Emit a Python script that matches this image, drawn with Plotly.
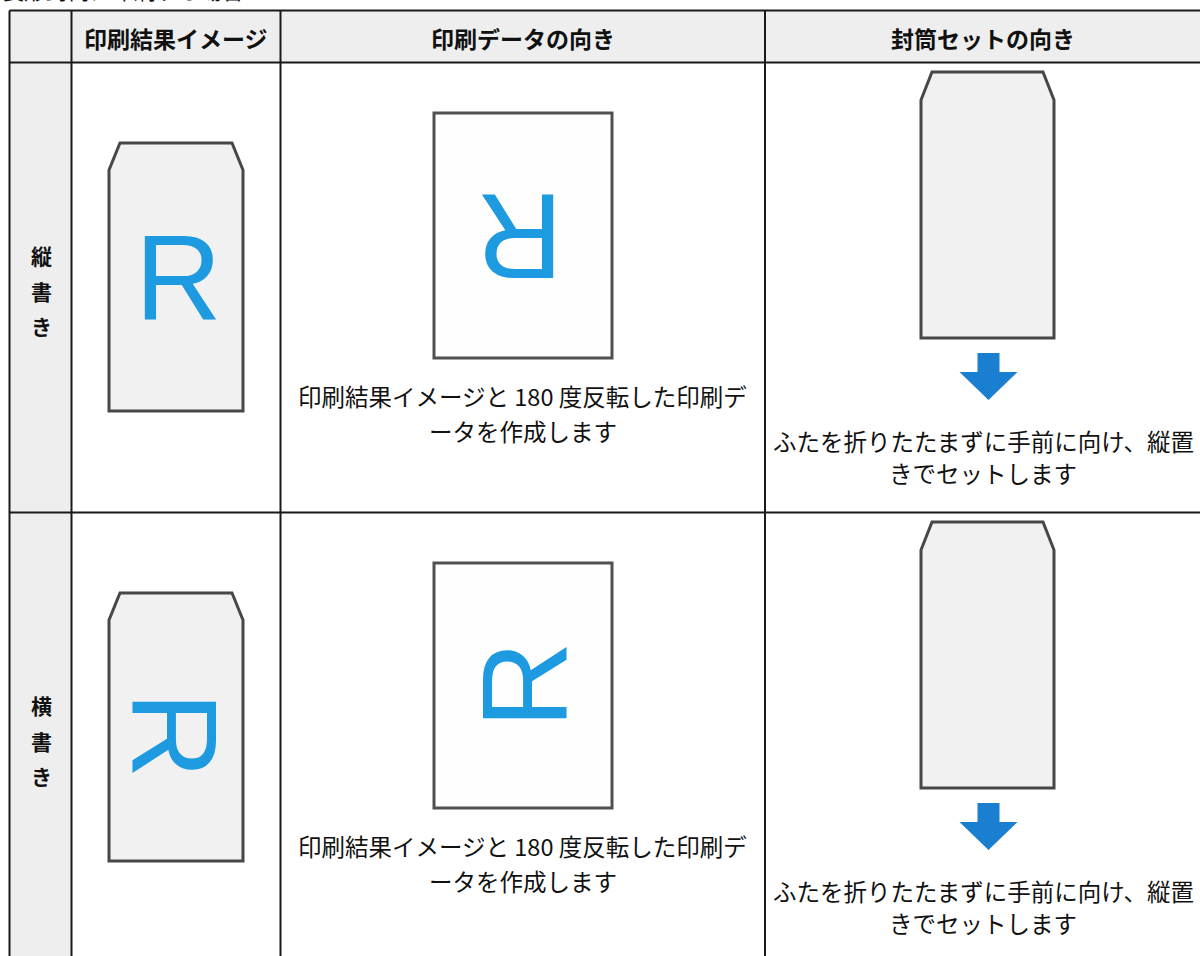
import plotly.graph_objects as go

# ---- table structure (pixel-scaled axes: 1 unit = 1 px) ----
W, H = 1200, 956
col_edges = [9.5, 71.5, 280.5, 765.0, 1201.0]
row_edges = [10.5, 62.5, 512.5, 962.5]
headers = ["", "印刷結果イメージ", "印刷データの向き", "封筒セットの向き"]
row_labels = [["縦", "書", "き"], ["横", "書", "き"]]
row_label_dy = [192.5, 228.0, 263.5]
title_text = "長形封筒に印刷する場合"

# rotation of the letter R in each row
result_angles = [0, 90]        # 印刷結果イメージ
data_angles = [180, -90]       # 印刷データの向き
result_R_dy = [215.5, 222.5]
result_R_x = [178, 174]
data_R_dy = [173.5, 172.5]
data_R_x = [520, 525]

data_caption = ["印刷結果イメージと 180 度反転した印刷デ", "ータを作成します"]
data_caption_dy = [333.0, 368.5]
set_caption = ["ふたを折りたたまずに手前に向け、縦置", "きでセットします"]
set_caption_dy = [378.5, 410.5]

# shapes geometry (relative to each row top)
env1 = dict(x0=109, x1=243, y0=80.5, y1=348.5, cx=11, cy=27)
paper = dict(x0=434, x1=612, y0=50.5, y1=295.5)
env3 = dict(x0=921, x1=1054, y0=9.5, y1=275.5, cx=11, cy=28)
arrow = dict(cx=988.5, half_shaft=11, half_head=29, top=290.5, neck=309.5, tip=337.5)

C_GRID = "#1a1a1a"
C_HEAD = "#eeeeee"
C_ENV_FILL = "#f1f1f2"
C_ENV_LINE = "#474747"
C_R = "#1d9ae0"
C_ARROW = "#1a7fd0"
FONT_JP = "Noto Sans CJK JP"

fig = go.Figure()
shapes = []
ann = []

# backgrounds
shapes.append(dict(type="rect", x0=col_edges[0], x1=col_edges[-1], y0=row_edges[0], y1=row_edges[1],
                   fillcolor=C_HEAD, line=dict(width=0), layer="below"))
shapes.append(dict(type="rect", x0=col_edges[0], x1=col_edges[1], y0=row_edges[1], y1=row_edges[-1],
                   fillcolor=C_HEAD, line=dict(width=0), layer="below"))


def env_path(e, top):
    x0, x1, cx, cy = e["x0"], e["x1"], e["cx"], e["cy"]
    y0, y1 = top + e["y0"], top + e["y1"]
    return (f"M{x0},{y0+cy} L{x0+cx},{y0} L{x1-cx},{y0} L{x1},{y0+cy} "
            f"L{x1},{y1} L{x0},{y1} Z")


for r in range(2):
    top = row_edges[r + 1]
    # result envelope
    shapes.append(dict(type="path", path=env_path(env1, top), fillcolor=C_ENV_FILL,
                       line=dict(color=C_ENV_LINE, width=3)))
    # print data paper
    shapes.append(dict(type="rect", x0=paper["x0"], x1=paper["x1"], y0=top + paper["y0"],
                       y1=top + paper["y1"], fillcolor="#fefefe", line=dict(color="#505050", width=3)))
    # set envelope
    shapes.append(dict(type="path", path=env_path(env3, top), fillcolor=C_ENV_FILL,
                       line=dict(color=C_ENV_LINE, width=3)))
    a = arrow
    p = (f"M{a['cx']-a['half_shaft']},{top+a['top']} L{a['cx']+a['half_shaft']},{top+a['top']} "
         f"L{a['cx']+a['half_shaft']},{top+a['neck']} L{a['cx']+a['half_head']},{top+a['neck']} "
         f"L{a['cx']},{top+a['tip']} L{a['cx']-a['half_head']},{top+a['neck']} "
         f"L{a['cx']-a['half_shaft']},{top+a['neck']} Z")
    shapes.append(dict(type="path", path=p, fillcolor=C_ARROW, line=dict(width=0)))

    # row label
    for ch, dy in zip(row_labels[r], row_label_dy):
        ann.append(dict(x=(col_edges[0] + col_edges[1]) / 2 + 0.5, y=top + dy, text=ch,
                        font=dict(family=FONT_JP, size=21, color="#111111", weight="bold")))
    # letters R
    ann.append(dict(x=result_R_x[r], y=top + result_R_dy[r], text="R", textangle=result_angles[r],
                    font=dict(family="Liberation Sans", size=120, color=C_R)))
    ann.append(dict(x=data_R_x[r], y=top + data_R_dy[r], text="R", textangle=data_angles[r],
                    font=dict(family="Liberation Sans", size=120, color=C_R)))
    # captions
    for t, dy in zip(data_caption, data_caption_dy):
        ann.append(dict(x=(col_edges[2] + col_edges[3]) / 2, y=top + dy, text=t,
                        font=dict(family=FONT_JP, size=23.5, color="#111111")))
    for t, dy in zip(set_caption, set_caption_dy):
        ann.append(dict(x=(col_edges[3] + col_edges[4]) / 2, y=top + dy, text=t,
                        font=dict(family=FONT_JP, size=23.5, color="#111111")))

# headers
for i, h in enumerate(headers):
    if h:
        ann.append(dict(x=(col_edges[i] + col_edges[i + 1]) / 2, y=(row_edges[0] + row_edges[1]) / 2 + 1,
                        text=h, font=dict(family=FONT_JP, size=23, color="#111111", weight="bold")))

# partially visible title above the table
ann.append(dict(x=0, y=7, xanchor="left", yanchor="bottom", text=title_text,
                font=dict(family=FONT_JP, size=22, color="#111111")))

# grid lines
for x in col_edges:
    shapes.append(dict(type="line", x0=x, x1=x, y0=row_edges[0], y1=row_edges[-1],
                       line=dict(color=C_GRID, width=2)))
for y in row_edges:
    shapes.append(dict(type="line", x0=col_edges[0], x1=col_edges[-1], y0=y, y1=y,
                       line=dict(color=C_GRID, width=2)))

for a_ in ann:
    a_.update(xref="x", yref="y", showarrow=False)
    a_.setdefault("xanchor", "center")
    a_.setdefault("yanchor", "middle")

fig.update_layout(
    width=W, height=H, margin=dict(l=0, r=0, t=0, b=0),
    paper_bgcolor="white", plot_bgcolor="white",
    xaxis=dict(range=[0, W], visible=False, fixedrange=True),
    yaxis=dict(range=[H, 0], visible=False, fixedrange=True),
    shapes=shapes, annotations=ann, showlegend=False,
)

fig.write_html("out.html", config={"displayModeBar": False},
               post_script="document.body.style.margin='0';document.body.style.overflow='hidden';")
